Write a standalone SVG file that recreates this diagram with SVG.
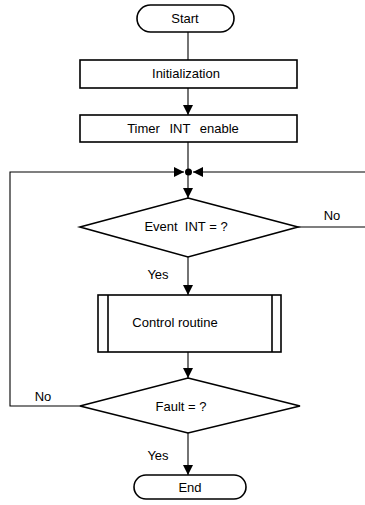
<svg xmlns="http://www.w3.org/2000/svg" width="365" height="505" viewBox="0 0 365 505">
<style>
.s{fill:#fff;stroke:#000;stroke-width:1.6}
.l{fill:none;stroke:#000;stroke-width:1.1}
text{font-family:"Liberation Sans",Arial,sans-serif;font-size:13px;fill:#000}
.c{text-anchor:middle}
</style>
<defs>
<marker id="a" viewBox="0 0 10 10" refX="10" refY="5" markerWidth="10" markerHeight="10" markerUnits="userSpaceOnUse" orient="auto">
<path d="M0,0 L10,5 L0,10 z" fill="#000"/>
</marker>
</defs>
<g id="connectors">
<line class="l" x1="188" y1="32" x2="188" y2="60"/>
<line class="l" x1="188" y1="88" x2="188" y2="115" marker-end="url(#a)"/>
<line class="l" x1="188" y1="142" x2="188" y2="172"/>
<line class="l" x1="188" y1="172" x2="188" y2="198" marker-end="url(#a)"/>
<polyline class="l" points="80,406 10,406 10,172 184,172" marker-end="url(#a)"/>
<line class="l" x1="365" y1="172" x2="193" y2="172" marker-end="url(#a)"/>
<circle cx="188.5" cy="172" r="3.5" fill="#000"/>
<line class="l" x1="298" y1="227" x2="365" y2="227"/>
<line class="l" x1="188" y1="257" x2="188" y2="295" marker-end="url(#a)"/>
<line class="l" x1="188" y1="352" x2="188" y2="378" marker-end="url(#a)"/>
<line class="l" x1="188" y1="433" x2="188" y2="475" marker-end="url(#a)"/>
<text x="332" y="220" class="c">No</text>
<text x="158" y="279" class="c">Yes</text>
<text x="43" y="401" class="c">No</text>
<text x="158" y="460" class="c">Yes</text>
</g>
<g id="start">
<rect class="s" x="137" y="5" width="97" height="27" rx="13.5"/>
<text x="185" y="23" class="c">Start</text>
</g>
<g id="init">
<rect class="s" x="80" y="60" width="217" height="28"/>
<text x="186" y="78" class="c">Initialization</text>
</g>
<g id="timer">
<rect class="s" x="80" y="115" width="217" height="27"/>
<text x="183" y="133" class="c" word-spacing="6">Timer INT enable</text>
</g>
<g id="event">
<polygon class="s" points="188,198 298,227 188,257 80,227"/>
<text x="186" y="231" class="c" xml:space="preserve">Event  INT = ?</text>
</g>
<g id="control">
<rect class="s" x="98" y="295" width="183" height="57"/>
<line class="s" x1="108" y1="295" x2="108" y2="352"/>
<line class="s" x1="272" y1="295" x2="272" y2="352"/>
<text x="175" y="327" class="c">Control routine</text>
</g>
<g id="fault">
<polygon class="s" points="188,378 300,406 188,433 80,406"/>
<text x="181" y="411" class="c">Fault = ?</text>
</g>
<g id="end">
<rect class="s" x="134" y="475" width="112" height="24" rx="12"/>
<text x="190" y="492" class="c">End</text>
</g>
</svg>
